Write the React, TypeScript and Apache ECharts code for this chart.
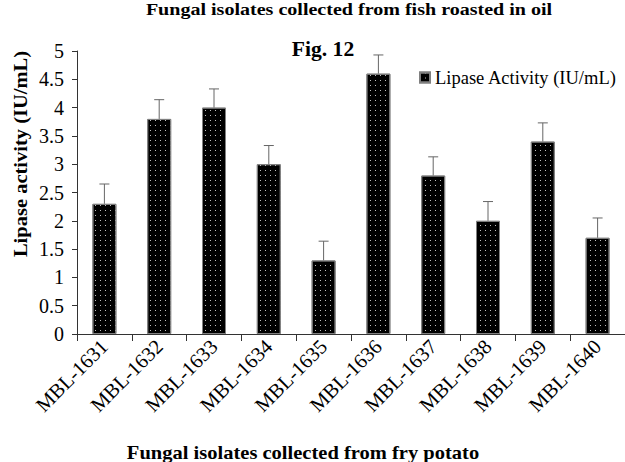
import React, { useEffect, useRef } from "react";
import * as echarts from "echarts";

const categories = ["MBL-1631", "MBL-1632", "MBL-1633", "MBL-1634", "MBL-1635", "MBL-1636", "MBL-1637", "MBL-1638", "MBL-1639", "MBL-1640"];
const lipase = [2.3, 3.8, 4.0, 3.0, 1.3, 4.6, 2.8, 2.0, 3.4, 1.7];
const errors = [0.35, 0.34, 0.33, 0.33, 0.34, 0.33, 0.33, 0.34, 0.33, 0.35];
const seriesName = "Lipase Activity (IU/mL)";
const titleText = "Fungal isolates collected from fish roasted in oil";
const figText = "Fig. 12";
const xTitle = "Fungal isolates collected from fry potato";
const yTitle = "Lipase activity (IU/mL)";

const FONT = "'Liberation Serif', 'Times New Roman', serif";

export default function App() {
  const ref = useRef<HTMLDivElement>(null);
  useEffect(() => {
    if (!ref.current) return;
    const chart = echarts.init(ref.current, null, { renderer: "svg" });
    const errData = lipase.map((v, i) => [i, v, errors[i]]);
    chart.setOption({
      animation: false,
      backgroundColor: "#fff",
      textStyle: { fontFamily: FONT, color: "#000" },
      grid: { left: 77, right: -2, top: 51, bottom: 128, containLabel: false },
      legend: {
        data: [seriesName],
        left: 414,
        top: 63,
        icon: "rect",
        itemWidth: 10,
        itemHeight: 10,
        itemGap: 5,
        textStyle: { fontFamily: FONT, fontSize: 18.5, color: "#000" },
      },
      xAxis: {
        type: "category",
        data: categories,
        boundaryGap: true,
        axisLine: { show: true, lineStyle: { color: "#333", width: 1 } },
        axisTick: { show: true, length: 7, alignWithLabel: false, lineStyle: { color: "#333" } },
        axisLabel: { rotate: 45, margin: 9, fontFamily: FONT, fontSize: 20.5, color: "#000", interval: 0 },
        splitLine: { show: false },
      },
      yAxis: {
        type: "value",
        min: 0,
        max: 5,
        interval: 0.5,
        axisLine: { show: true, lineStyle: { color: "#333", width: 1 } },
        axisTick: { show: true, length: 5, lineStyle: { color: "#333" } },
        axisLabel: { margin: 13, fontFamily: FONT, fontSize: 20, color: "#000" },
        splitLine: { show: false },
      },
      graphic: [
        {
          type: "text",
          x: 349,
          y: 9,
          scaleX: 1.18,
          style: { text: titleText, textAlign: "center", textVerticalAlign: "middle", font: `bold 17px ${FONT}`, fill: "#000" },
        },
        {
          type: "text",
          x: 323,
          y: 49,
          scaleX: 1.08,
          style: { text: figText, textAlign: "center", textVerticalAlign: "middle", font: `bold 20px ${FONT}`, fill: "#000" },
        },
        {
          type: "text",
          x: 20,
          y: 154,
          rotation: Math.PI / 2,
          scaleX: 1.08,
          style: { text: yTitle, textAlign: "center", textVerticalAlign: "middle", font: `bold 19px ${FONT}`, fill: "#000" },
        },
        {
          type: "text",
          x: 303,
          y: 444,
          scaleX: 1.14,
          style: { text: xTitle, textAlign: "center", textVerticalAlign: "top", font: `bold 18px ${FONT}`, fill: "#000" },
        },
      ],
      series: [
        {
          name: seriesName,
          type: "bar",
          data: lipase,
          barWidth: 24,
          itemStyle: {
            color: "#000",
            borderColor: "#808080",
            borderWidth: 1,
            decal: {
              symbol: "rect",
              symbolSize: 1,
              color: "rgba(255,255,255,0.75)",
              dashArrayX: [1, 4],
              dashArrayY: [1, 4],
              rotation: 0,
            },
          },
        },
        {
          name: "err",
          type: "custom",
          data: errData,
          encode: { x: 0, y: 1 },
          z: 5,
          renderItem: (params: any, api: any) => {
            const idx = api.value(0);
            const v = api.value(1);
            const e = api.value(2);
            const base = api.coord([idx, v]);
            const top = api.coord([idx, v + e]);
            const cap = 5;
            const st = { stroke: "#666", lineWidth: 1 };
            return {
              type: "group",
              children: [
                { type: "line", shape: { x1: base[0], y1: base[1], x2: top[0], y2: top[1] }, style: st },
                { type: "line", shape: { x1: top[0] - cap, y1: top[1], x2: top[0] + cap, y2: top[1] }, style: st },
              ],
            };
          },
        },
      ],
    });
    return () => chart.dispose();
  }, []);
  return <div ref={ref} style={{ position: "fixed", left: 0, top: 0, width: 625, height: 462 }} />;
}
